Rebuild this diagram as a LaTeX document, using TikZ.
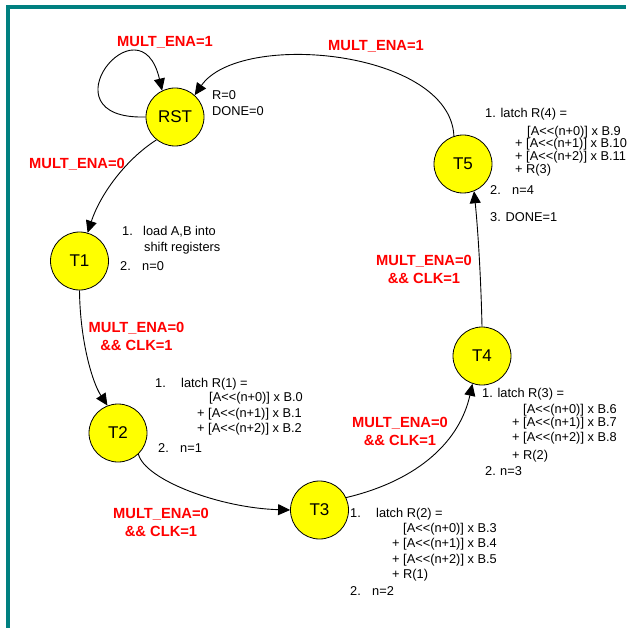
\documentclass[tikz,border=0pt]{standalone}
\usepackage{fontspec}
\setmainfont{Liberation Sans}[Ligatures=TeXOff]
\usetikzlibrary{arrows.meta}
\definecolor{frameteal}{RGB}{0,128,128}
\definecolor{stateyellow}{RGB}{255,255,0}
\definecolor{condred}{RGB}{255,0,0}
\begin{document}
\begin{tikzpicture}[x=1pt,y=-1pt,
  state/.style={circle, draw=black, line width=0.8pt, fill=stateyellow, minimum size=58pt, inner sep=0pt, font=\fontsize{17}{20}\selectfont},
  cond/.style={text=condred, font=\fontsize{14.7}{18}\selectfont\bfseries, align=center, inner sep=0pt},
  note/.style={anchor=base west, inner sep=0pt, font=\fontsize{12.8}{15}\selectfont},
  trans/.style={-{Triangle[length=12pt,width=11pt]}, line width=0.9pt}]
\useasboundingbox (0,0) rectangle (626,628);
\fill[frameteal] (6,5) rectangle (10,628);
\fill[frameteal] (6,5) rectangle (626,9);

% states
\node[state] (RST) at (175,117) {RST};
\node[state] (T1) at (79.5,261) {T1};
\node[state] (T2) at (118,433) {T2};
\node[state] (T3) at (319.5,510) {T3};
\node[state] (T4) at (482,356) {T4};
\node[state] (T5) at (463,164) {T5};

% transitions
\draw[trans] (RST.180) .. controls (40,120) and (140,-5) .. (RST.116);
\draw[trans] (T5.108) .. controls (450,50) and (240,30) .. (RST.48);
\draw[trans] (RST.231) .. controls (125,160) and (100,195) .. (T1.74);
\draw[trans] (T1.270) .. controls (80,340) and (92,382) .. (T2.111);
\draw[trans] (T2.314) .. controls (145,480) and (220,508) .. (T3.180);
\draw[trans] (T3.25) .. controls (420,480) and (460,440) .. (T4.251);
\draw[trans] (T4.90) .. controls (481,280) and (478,230) .. (T5.292);

% conditions
\node[cond] (c0) at (165,42) {MULT\_ENA=1};
\node[cond] (c5) at (376,46) {MULT\_ENA=1};
\node[cond] (c1) at (77,164) {MULT\_ENA=0};
\node[cond] (c2) at (136.5,336) {MULT\_ENA=0\\\&\& CLK=1};
\node[cond] (c3) at (161,522) {MULT\_ENA=0\\\&\& CLK=1};
\node[cond] (c4) at (400,431.5) {MULT\_ENA=0\\\&\& CLK=1};
\node[cond] (c6) at (424,269.5) {MULT\_ENA=0\\\&\& CLK=1};

% RST actions
\node[note] (r1) at (212,100) {R=0};
\node[note] (r2) at (212,116) {DONE=0};

% T1 actions
\node[note] (a1n) at (122,235) {1.};
\node[note] (a1a) at (143,235) {load A,B into};
\node[note] (a1b) at (144,251) {shift registers};
\node[note] (a2n) at (120,270) {2.};
\node[note] (a2a) at (142,270) {n=0};

% T2 actions
\node[note] (b1n) at (155,387) {1.};
\node[note] (b1a) at (181,387) {latch R(1) =};
\node[note] (b1b) at (209,401) {[A<<(n+0)] x B.0};
\node[note] (b1c) at (197,417) {+ [A<<(n+1)] x B.1};
\node[note] (b1d) at (197,432) {+ [A<<(n+2)] x B.2};
\node[note] (b2n) at (158,452) {2.};
\node[note] (b2a) at (180,452) {n=1};

% T3 actions
\node[note] (d1n) at (350,517) {1.};
\node[note] (d1a) at (376,517) {latch R(2) =};
\node[note] (d1b) at (403,532) {[A<<(n+0)] x B.3};
\node[note] (d1c) at (392,547) {+ [A<<(n+1)] x B.4};
\node[note] (d1d) at (392,563) {+ [A<<(n+2)] x B.5};
\node[note] (d1e) at (392,578) {+ R(1)};
\node[note] (d2n) at (350,595) {2.};
\node[note] (d2a) at (372,595) {n=2};

% T4 actions
\node[note] (e1a) at (482,397) {1. latch R(3) =};
\node[note] (e1b) at (523,413) {[A<<(n+0)] x B.6};
\node[note] (e1c) at (512,426) {+ [A<<(n+1)] x B.7};
\node[note] (e1d) at (512,441) {+ [A<<(n+2)] x B.8};
\node[note] (e1e) at (512,459) {+ R(2)};
\node[note] (e2n) at (485,475) {2.};
\node[note] (e2a) at (500,475) {n=3};

% T5 actions
\node[note] (f1a) at (485,118) {1. latch R(4) =};
\node[note] (f1b) at (527,135.5) {[A<<(n+0)] x B.9};
\node[note] (f1c) at (515,148) {+ [A<<(n+1)] x B.10};
\node[note] (f1d) at (515,161) {+ [A<<(n+2)] x B.11};
\node[note] (f1e) at (515,174) {+ R(3)};
\node[note] (f2n) at (490,195) {2.};
\node[note] (f2a) at (512,195) {n=4};
\node[note] (f3a) at (490,222) {3. DONE=1};
\end{tikzpicture}
\end{document}
